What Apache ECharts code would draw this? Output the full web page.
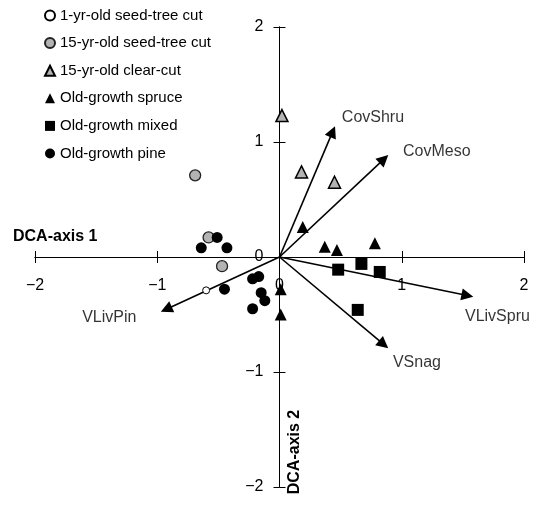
<!DOCTYPE html>
<html>
<head>
<meta charset="utf-8">
<script src="https://cdn.jsdelivr.net/npm/echarts@6/dist/echarts.min.js"></script>
<style>
html,body{margin:0;padding:0;background:#fff;}
#chart{width:543px;height:513px;}
</style>
</head>
<body>
<div id="chart"></div>
<script>
// ---- data ----
var axisTicks = [-2, -1, 0, 1, 2];
var oneYrSeedTree = [[-0.60, -0.29]];
var fifteenYrSeedTree = [[-0.69, 0.71], [-0.58, 0.17], [-0.47, -0.08]];
var fifteenYrClearCut = [[0.02, 1.23], [0.18, 0.74], [0.45, 0.65]];
var oldGrowthSpruce = [[0.01, -0.28], [0.01, -0.50], [0.19, 0.26], [0.37, 0.09], [0.47, 0.06], [0.78, 0.12]];
var oldGrowthMixed = [[0.48, -0.11], [0.67, -0.06], [0.82, -0.13], [0.64, -0.46]];
var oldGrowthPine = [[-0.51, 0.17], [-0.64, 0.08], [-0.43, 0.08], [-0.45, -0.28], [-0.22, -0.19], [-0.17, -0.17], [-0.15, -0.31], [-0.12, -0.38], [-0.22, -0.45]];
var vectorNames = ['CovShru', 'CovMeso', 'VLivSpru', 'VSnag', 'VLivPin'];
var vectorEnds = [[0.435, 1.09], [0.854, 0.851], [1.537, -0.335], [0.852, -0.76], [-0.926, -0.454]];
var vectorLabelAt = [[0.51, 1.216], [1.01, 0.92], [1.517, -0.52], [0.928, -0.92], [-1.614, -0.53]];

var FONT = "'Liberation Sans', Arial, sans-serif";
var GRAY = '#b3b3b3';
var chart = echarts.init(document.getElementById('chart'), null, {renderer: 'canvas'});

function minusFmt(v) { return String(v).replace('-', '\u2212'); }

var AX_MIN = axisTicks[0], AX_MAX = axisTicks[axisTicks.length - 1], AX_STEP = axisTicks[1] - axisTicks[0];
function valueAxis(extra) {
  return Object.assign({
    type: 'value', min: AX_MIN, max: AX_MAX, interval: AX_STEP,
    splitLine: {show: false}
  }, extra);
}
var hiddenPart = {show: false};
var labelStyle = {color: '#000', fontSize: 16, fontFamily: FONT, formatter: minusFmt};

// plot area geometry
var G = {left: 35, right: 19, top: 27, bottom: 26, w: 543, h: 513};
var plotW = G.w - G.left - G.right, plotH = G.h - G.top - G.bottom;

var option = {
  animation: false,
  backgroundColor: '#fff',
  grid: [
    // main plotting grid
    {left: G.left, right: G.right, top: G.top, bottom: G.bottom, outerBoundsMode: 'none', containLabel: false},
    // carries x tick labels: bottom edge sits on y = 0
    {left: G.left, right: G.right, top: G.top, height: plotH / 2, outerBoundsMode: 'none', containLabel: false},
    // carries y tick labels: left edge sits on x = 0
    {left: G.left + plotW / 2, width: plotW / 2, top: G.top, bottom: G.bottom, outerBoundsMode: 'none', containLabel: false}
  ],
  xAxis: [
    valueAxis({gridIndex: 0, position: 'bottom',
      axisLine: {onZero: true, lineStyle: {color: '#000', width: 1}},
      axisTick: {show: true, length: 6, lineStyle: {color: '#000'}},
      axisLabel: {show: false}}),
    valueAxis({gridIndex: 0, position: 'bottom',
      axisLine: {onZero: true, lineStyle: {color: '#000', width: 1}},
      axisTick: {show: true, inside: true, length: 6, lineStyle: {color: '#000'}},
      axisLabel: {show: false}}),
    valueAxis({gridIndex: 1, position: 'bottom',
      axisLine: {show: false, onZero: false}, axisTick: hiddenPart,
      axisLabel: Object.assign({margin: 21}, labelStyle)}),
    valueAxis({gridIndex: 2, show: false})
  ],
  yAxis: [
    valueAxis({gridIndex: 0, position: 'left',
      axisLine: {onZero: true, lineStyle: {color: '#000', width: 1}},
      axisTick: {show: true, length: 6, lineStyle: {color: '#000'}},
      axisLabel: {show: false}}),
    valueAxis({gridIndex: 0, position: 'left',
      axisLine: {onZero: true, lineStyle: {color: '#000', width: 1}},
      axisTick: {show: true, inside: true, length: 6, lineStyle: {color: '#000'}},
      axisLabel: {show: false}}),
    valueAxis({gridIndex: 1, show: false}),
    valueAxis({gridIndex: 2, position: 'left',
      axisLine: {show: false, onZero: false}, axisTick: hiddenPart,
      axisLabel: Object.assign({margin: 16}, labelStyle)})
  ],
  legend: {
    orient: 'vertical', left: 44, top: 8, padding: 0,
    itemWidth: 10, itemHeight: 10, itemGap: 12.6,
    textStyle: {color: '#000', fontSize: 15, fontFamily: FONT},
    data: ['1-yr-old seed-tree cut', '15-yr-old seed-tree cut', '15-yr-old clear-cut',
           'Old-growth spruce', 'Old-growth mixed', 'Old-growth pine']
  },
  graphic: [
    {type: 'text', x: 13, y: 237,
     style: {text: 'DCA-axis 1', fontSize: 16, fontWeight: 'bold', fontFamily: FONT, fill: '#000', align: 'left', verticalAlign: 'middle'}},
    {type: 'text', x: 295, y: 452, rotation: Math.PI / 2,
     style: {text: 'DCA-axis 2', fontSize: 16, fontWeight: 'bold', fontFamily: FONT, fill: '#000', align: 'center', verticalAlign: 'middle'}}
  ],
  series: [
    {
      type: 'lines', coordinateSystem: 'cartesian2d', z: 1,
      symbol: ['none', 'triangle'], symbolSize: 12,
      lineStyle: {color: '#000', width: 1.6, opacity: 1},
      itemStyle: {color: '#000'},
      data: vectorEnds.map(function (e) { return {coords: [[0, 0], e]}; })
    },
    {
      type: 'scatter', z: 1, symbolSize: 0, silent: true,
      label: {show: true, position: 'right', distance: 0, color: '#000', fontSize: 16, fontFamily: FONT,
              formatter: function (p) { return vectorNames[p.dataIndex]; }},
      data: vectorLabelAt
    },
    {name: '1-yr-old seed-tree cut', type: 'scatter', z: 3, symbol: 'circle', symbolSize: 7,
     itemStyle: {color: '#fff', borderColor: '#000', borderWidth: 1, opacity: 1}, data: oneYrSeedTree},
    {name: '15-yr-old seed-tree cut', type: 'scatter', z: 3, symbol: 'circle', symbolSize: 11,
     itemStyle: {color: GRAY, borderColor: '#222', borderWidth: 1.3, opacity: 1}, data: fifteenYrSeedTree},
    {name: '15-yr-old clear-cut', type: 'scatter', z: 3, symbol: 'triangle', symbolSize: 12,
     itemStyle: {color: GRAY, borderColor: '#000', borderWidth: 1.5, opacity: 1}, data: fifteenYrClearCut},
    {name: 'Old-growth spruce', type: 'scatter', z: 3, symbol: 'triangle', symbolSize: 12,
     itemStyle: {color: '#000', opacity: 1}, data: oldGrowthSpruce},
    {name: 'Old-growth mixed', type: 'scatter', z: 3, symbol: 'rect', symbolSize: 12,
     itemStyle: {color: '#000', opacity: 1}, data: oldGrowthMixed},
    {name: 'Old-growth pine', type: 'scatter', z: 3, symbol: 'circle', symbolSize: 11,
     itemStyle: {color: '#000', opacity: 1}, data: oldGrowthPine}
  ]
};
chart.setOption(option);
</script>
</body>
</html>
